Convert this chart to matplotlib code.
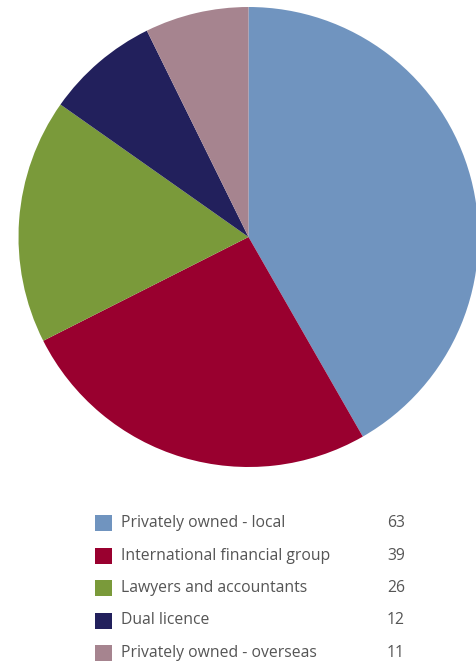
import matplotlib.pyplot as plt
from matplotlib.patches import Rectangle

categories = ["Privately owned - local", "International financial group",
              "Lawyers and accountants", "Dual licence", "Privately owned - overseas"]
counts = [63, 39, 26, 12, 11]
colors = ["#7094bf", "#99002f", "#7a9a3a", "#22205c", "#a6848f"]

W, H = 477, 668
fig = plt.figure(figsize=(W / 100, H / 100), dpi=100)
ax = fig.add_axes([0, 0, 1, 1])

# pie, clockwise from 12 o'clock
ax.pie(counts, colors=colors, startangle=90, counterclock=False,
       center=(248.5, H - 237), radius=230, frame=True,
       wedgeprops=dict(linewidth=0))
ax.set_xlim(0, W)
ax.set_ylim(0, H)
ax.set_aspect("equal")
ax.axis("off")

# legend rows
font = "Open Sans"
for i, (cat, n, c) in enumerate(zip(categories, counts, colors)):
    y = H - (523 + i * 32.5)
    ax.add_patch(Rectangle((95, y - 8), 17, 16, color=c, lw=0))
    ax.text(121, y, cat, fontsize=11.3, color="#555555", va="center", ha="left", family=font)
    ax.text(405, y, str(n), fontsize=11.3, color="#555555", va="center", ha="right", family=font)

fig.savefig("out.png", dpi=100)
